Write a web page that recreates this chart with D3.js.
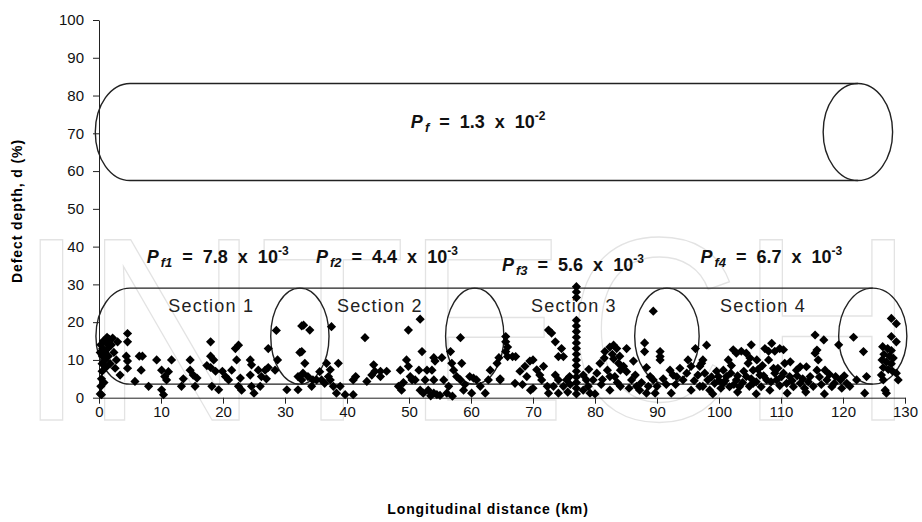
<!DOCTYPE html>
<html>
<head>
<meta charset="utf-8">
<script src="https://cdn.jsdelivr.net/npm/d3@7"></script>
<style>
  body { margin: 0; background: #fff; }
  svg { display: block; font-family: Arial, "Liberation Sans", sans-serif; }
  .axis path, .axis line { stroke: #222; }
  .axis text { font-size: 15px; fill: #111; }
</style>
</head>
<body>
<svg width="922" height="522"></svg>
<script>
// defect readings [km, depth %] per pipeline section
var sec1 = [
  [0.2,1],[0.3,3],[0.4,5],[0.5,7],[0.5,9],[0.6,11],[0.6,13],[0.7,15],[0.3,14],[0.9,12],
  [1.0,10],[1.2,14.5],[1.4,13],[1.5,11],[1.6,15.5],[1.8,9],[2.0,14],[2.2,15.8],[2.4,12],[2.6,7.8],
  [2.8,10],[3.0,14.8],[3.4,6],[1.1,8],[0.8,4],[0.2,12],[1.3,16],[0.4,0.8],
  [4.6,17],[4.6,14.8],[4.4,11],[4.6,9.7],[4.6,7.8],[5.8,4.3],[6.5,11],[7.0,11],[6.8,7.3],[8.0,3],
  [9.3,10],[10.1,7.3],[10.6,5.6],[10.1,2.1],[10.4,0.8],[11.2,6.9],[10.9,4.7],[11.7,10],[13.3,3],[13.6,5],
  [14.7,10],[14.7,7.3],[15.2,6],[15.8,5.2],[15.5,3],[18.0,14.8],[17.4,8.5],[18.0,8],[18.5,10],[18.8,7],
  [18.0,11],[18.2,3],[19.3,2.1],[19.9,7],[20.4,5.6],[20.9,4.7],[21.4,7.3],[22.0,13],[22.5,13.9],[22.2,10],
  [22.8,5.2],[22.5,3],[23.0,2],[24.4,10],[24.6,8.7],[24.4,6],[24.6,3],[25.0,1.2],[25.7,7.3],[26.2,5.6],
  [26.0,3],[26.8,7.3],[27.3,8],[27.3,13],[27.0,5],[28.4,7.3],[28.8,10],[28.6,17.8],[30.3,2.1],[32.1,2.1],
  [32.4,12],[32.1,5.6],[32.7,19]
];
var sec2 = [
  [33.0,19.2],[34.0,17.9],[32.7,12.2],[33.2,9.1],[32.9,6.5],[32.7,4.7],[33.7,5.6],[34.5,4.7],[35.1,4.7],[34.3,3],
  [35.6,6.9],[35.9,4.7],[36.4,3.8],[36.7,9.1],[37.3,7.4],[37.5,18.8],[37.0,5.6],[37.3,4.7],[37.8,3],[38.3,1.2],
  [38.9,3],[38.6,9.1],[39.7,0.8],[41.0,0.8],[41.4,5.6],[41.0,4.7],[42.9,15.9],[43.2,4.3],[44.3,8.7],[44.5,7],
  [44.0,6],[45.4,7],[45.4,5.6],[46.4,7],[48.3,3],[48.6,7.3],[49.1,4],[48.8,2],[49.6,10],[49.9,8.3],
  [50.2,5.6],[50.5,4.7],[49.9,17.9],[51.8,20.8],[52.1,12.2],[51.6,7.3],[51.0,4.7],[51.8,2],[52.9,7.3],[52.6,4.7],
  [52.3,1.2],[53.1,2],[54.0,10.6],[54.2,9.7],[53.7,7.3],[54.0,4.7],[54.0,1.2],[54.5,0.8],[55.3,10.6],[55.6,4.7],
  [56.1,1.2],[56.4,3],[56.7,12.2],[56.9,9.1],[57.2,7.3],[57.7,5.6],[58.3,4.7],[58.3,15.9],[58.5,9.1],[58.8,2],
  [59.8,5.6],[60.4,5.2],[60.1,1.2],[60.9,4.7],[62.3,1.2],[62.8,4.7],[63.1,7.3],[64.2,9.1],[64.5,10.6],[64.7,4.7],
  [53.5,0.5],[55.0,0.6],[57.0,0.4],[59.0,3.5],[61.5,3]
];
var sec3 = [
  [77.0,29.4],[77.0,28],[77.0,26.5],[77.0,20.5],[77.0,19],[77.0,17.5],[77.0,16],[77.0,14.5],[77.0,13],[77.0,11.5],
  [77.0,10],[77.0,8.5],[77.0,7],[77.0,5.5],[77.0,4],[77.0,2.5],[77.0,1],
  [65.6,16.2],[65.6,14.8],[65.9,13.4],[65.6,12.2],[65.9,10.9],[66.7,10.9],[67.2,10.9],[67.1,3.8],[64.7,5],
  [67.9,7],[68.7,8.3],[69.0,5.6],[69.5,9.7],[70.0,10],[70.6,7.4],[71.1,6],[71.4,4.7],[71.7,8.3],[72.5,17.9],
  [73.0,17.1],[73.6,14.8],[74.1,10.9],[74.9,10.9],[74.6,13],[73.6,6],[74.1,4.7],[73.3,3],[74.1,1.2],[74.9,3],
  [75.4,4.7],[75.9,5.6],[72.3,3],[72.5,1.2],[78.1,6],[78.6,4.7],[78.9,3],[78.1,2],[79.2,1.2],[79.7,4.7],
  [80.8,9.1],[81.6,12.2],[82.4,13.4],[83.0,13.9],[83.5,13],[83.0,10.3],[83.8,9.1],[82.0,7.3],[82.4,5.6],[83.2,5.6],
  [84.1,7.3],[84.6,8.3],[85.1,13],[85.1,6.9],[85.9,4.7],[84.1,3],[82.4,2],[86.2,9.7],[86.7,3],[87.2,2],
  [88.3,1.2],[88.0,14.5],[88.0,12.2],[88.3,8],[88.9,5.6],[89.4,4.7],[89.7,1.2],[89.4,22.9],[90.5,12.2],[90.5,10.9],
  [90.5,10],[91.0,5],[92.1,7.3],[92.6,6],[93.7,7.8],[92.3,1.2],[94.2,4.7],[95.0,10],[95.5,8.3],[96.2,13],
  [96.6,6],[97.2,9.1],[96.9,3],[80.0,1],[81.0,3.5],[87.5,4],[90.0,3],[93.0,3.5],[95.5,2],[70.0,2.5],
  [81.5,10.5],[82.8,11.5],[84.0,11],[80.3,6.5],[81.2,4.8],[83.6,4],[85.5,2.5],[86.5,6],[88.6,3],[91.5,3.5],
  [93.2,5.5],[94.8,6.5],[96.0,4.5],[68.3,3.5],[69.6,2],[76.0,3.5],[75.6,1.5],[79.0,7.5]
];
var sec4 = [
  [98.0,13.9],[97.4,10],[96.9,8.3],[97.7,6.5],[98.2,4.7],[97.4,3],[98.5,2],[99.3,3.8],
  [99.9,5.6],[100.7,7.3],[101.2,5.6],[101.5,10],[102.3,12.7],[102.8,11.8],[103.6,12.3],[104.4,11.8],[105.2,14],[104.7,9.1],
  [105.5,7.3],[106.1,10],[106.6,6],[107.4,13],[108.0,12.3],[108.5,14.4],[109.0,12.3],[109.8,13],[110.4,12.7],[110.6,9.1],
  [109.5,7.8],[109.0,6.5],
  [100.7,3.8],[101.7,2.9],[102.8,4.7],[103.3,2.9],[104.4,5.6],[105.5,3.8],[106.8,2.9],[107.7,4.7],[108.2,2],[109.3,4.7],
  [110.1,5.6],[110.9,3.8],[111.4,5.6],[112.0,2.9],[113.1,3.8],[112.5,7.3],[113.1,8.2],[114.1,8.2],[114.7,5.6],[115.8,7.3],
  [115.5,11.8],[115.8,12.6],[115.5,16.6],[116.0,10],[116.9,15.3],[117.1,7.3],[117.4,4.7],[118.2,2.9],[118.8,5.6],[119.6,4.7],
  [119.3,14],[99.0,1],[103.0,1.5],[106.0,1],[111.0,1.2],[114.0,1.5],[117.0,1],[100.0,4.5],[104.0,7],[107.0,8.5],
  [111.5,9.5],[113.5,5],[116.5,3.5],
  [98.8,5.5],[99.6,7],[100.3,2.5],[101.0,4.5],[101.9,6.5],[102.4,3.5],[103.0,5.8],[103.8,4],[104.9,3],[105.2,5],
  [106.0,4.2],[106.3,7.5],[107.2,5.8],[108.4,4.2],[108.8,7.8],[109.8,3.2],[110.4,6.5],[111.8,4.5],[112.6,5.8],[113.8,2.5],
  [114.4,4.2],[115.2,3],[116.2,5.5],[117.8,6.2],[118.6,3.8],[119.8,2.5],[120.2,5.8],[102.0,8.5],[105.0,10.5],[108.0,10],
  [121.7,16],[123.3,12.2],[123.8,5.6],[123.5,1.2],[122.2,4.7],[120.6,3.8],[121.1,3],
  [127.8,21],[128.6,19.6],[127.8,16.2],[128.6,14.8],[126.4,13.5],[127.2,13],[127.8,12.5],[126.6,11.5],[127.5,11],[128.1,10.5],
  [126.3,10],[127.0,9.5],[127.8,9],[126.5,8],[127.3,7.5],[128.0,7],[126.8,2],[126.5,4.7],[128.6,6.5],[128.9,4.7],
  [127.0,1.2],[126.2,6]
];

var xTicks = d3.range(0, 131, 10),
    yTicks = d3.range(0, 101, 10);

// probability of failure labels
var pfLabels = [
  {x: 50.3, y: 71.4, sub: "f", val: "1.3", exp: "-2"},
  {x: 7.7, y: 35.6, sub: "f1", val: "7.8", exp: "-3"},
  {x: 35.0, y: 35.6, sub: "f2", val: "4.4", exp: "-3"},
  {x: 65.0, y: 33.6, sub: "f3", val: "5.6", exp: "-3"},
  {x: 97.0, y: 35.6, sub: "f4", val: "6.7", exp: "-3"}
];
var sections = ["Section 1", "Section 2", "Section 3", "Section 4"],
    sectionMid = [18.1, 45.3, 76.6, 107.1];

var svg = d3.select("svg");

var x = d3.scaleLinear().domain([0, 130]).range([99, 905]),
    y = d3.scaleLinear().domain([0, 100]).range([397.7, 20]);

// faint watermark behind the chart
svg.append("text")
    .attr("x", 18)
    .attr("y", 420)
    .attr("textLength", 896)
    .attr("lengthAdjust", "spacingAndGlyphs")
    .style("font-size", "262px")
    .style("fill", "none")
    .style("stroke", "#e3e3e3")
    .style("stroke-width", 1.4)
    .text("INTECH");

// axes
svg.append("g")
    .attr("class", "axis")
    .attr("transform", "translate(" + x(0) + ",0)")
    .call(d3.axisLeft(y).tickValues(yTicks).tickSize(6).tickSizeOuter(0).tickPadding(9));

svg.append("g")
    .attr("class", "axis")
    .attr("transform", "translate(0," + y(0) + ")")
    .call(d3.axisBottom(x).tickValues(xTicks).tickSize(6).tickSizeOuter(0).tickPadding(3));

// cylinders
function cylinder(left, right, top, bottom, rx, mids) {
    var g = svg.append("g").style("fill", "none").style("stroke", "#222").style("stroke-width", 1.4);
    var x0 = x(left), x1 = x(right), yt = y(top), yb = y(bottom),
        r = x(rx) - x(0), ry = (yb - yt) / 2;
    g.append("path")
        .attr("d", "M" + x1 + "," + yt + "H" + x0 +
            "A" + r + "," + ry + " 0 0 0 " + x0 + "," + yb + "H" + x1);
    mids.concat([[right, rx]]).forEach(function (m) {
        g.append("ellipse")
            .attr("cx", x(m[0]))
            .attr("cy", (yt + yb) / 2)
            .attr("rx", x(m[1]) - x(0))
            .attr("ry", ry);
    });
}
cylinder(5.0, 122.4, 83.2, 57.5, 5.6, []);
cylinder(5.0, 124.8, 29.0, 3.6, 5.5, [[32.4, 4.7], [60.6, 4.7], [91.6, 5.2]]);

// defects
var pts = sec1.concat(sec2, sec3, sec4);
svg.append("g").selectAll("path")
    .data(pts)
    .enter().append("path")
    .attr("transform", d => "translate(" + x(d[0]) + "," + y(d[1]) + ")")
    .attr("d", "M0,-4.6L4.6,0L0,4.6L-4.6,0Z")
    .style("fill", "#000");

// section names
svg.append("g").selectAll("text")
    .data(sections)
    .enter().append("text")
    .attr("x", (d, i) => x(sectionMid[i]))
    .attr("y", y(22.6))
    .attr("text-anchor", "middle")
    .style("font-size", "18px")
    .style("letter-spacing", "1.2px")
    .style("fill", "#222")
    .text(d => d);

// Pf labels
var pf = svg.append("g").selectAll("text")
    .data(pfLabels)
    .enter().append("text")
    .attr("x", d => x(d.x))
    .attr("y", d => y(d.y))
    .style("font-size", "18px")
    .style("font-weight", "bold")
    .style("white-space", "pre")
    .style("fill", "#111");
pf.append("tspan").style("font-style", "italic").text("P");
pf.append("tspan").style("font-style", "italic").style("font-size", "13px")
    .attr("dx", 2).attr("dy", 4).text(d => d.sub);
pf.append("tspan").attr("dy", -4).text(d => "  =  " + d.val + "  x  10");
pf.append("tspan").style("font-size", "12px").attr("dy", -8).text(d => d.exp);

// axis titles
svg.append("text")
    .attr("transform", "translate(22,211) rotate(-90)")
    .attr("text-anchor", "middle")
    .style("font-size", "14px")
    .style("font-weight", "bold")
    .style("letter-spacing", "0.9px")
    .text("Defect depth, d (%)");

svg.append("text")
    .attr("x", 488)
    .attr("y", 514)
    .attr("text-anchor", "middle")
    .style("font-size", "14px")
    .style("font-weight", "bold")
    .style("letter-spacing", "0.9px")
    .text("Longitudinal distance (km)");
</script>
</body>
</html>
